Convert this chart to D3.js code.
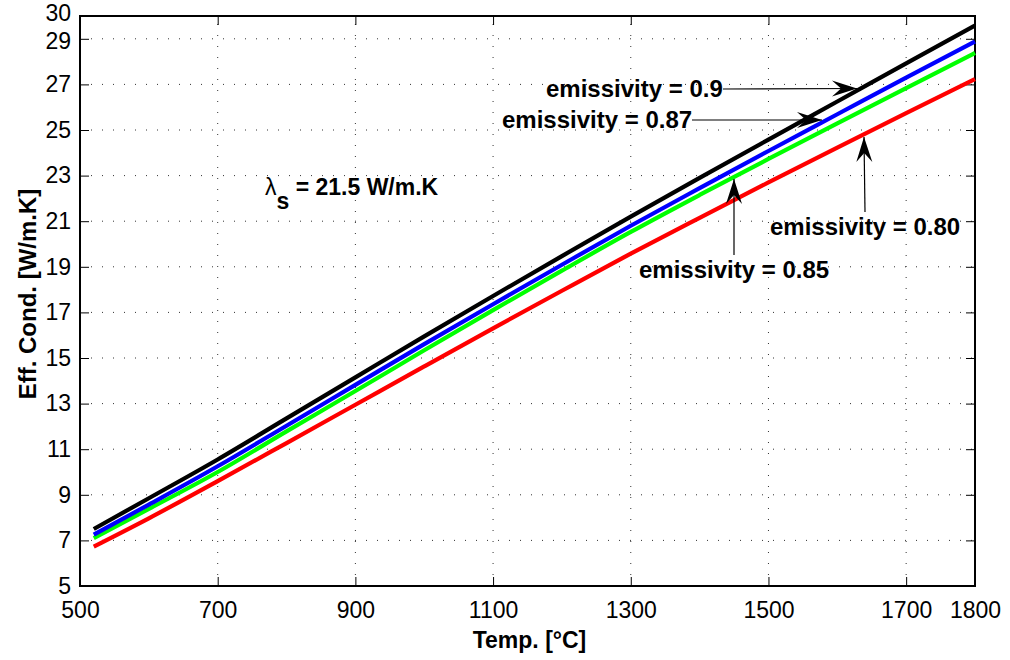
<!DOCTYPE html>
<html><head><meta charset="utf-8">
<script src="https://cdn.jsdelivr.net/npm/d3@7"></script>
<style>body{margin:0;background:#fff;} svg{display:block;}</style>
</head><body>
<svg id="chart" width="1010" height="660"></svg>
<script>
const temps = [520, 600, 700, 800, 900, 1000, 1100, 1200, 1300, 1400, 1500, 1600, 1700, 1800];
const emis090 = [7.5, 8.85, 10.55, 12.35, 14.15, 15.95, 17.72, 19.47, 21.2, 22.9, 24.58, 26.25, 27.92, 29.58];
const emis087 = [7.25, 8.57, 10.25, 12.03, 13.82, 15.61, 17.36, 19.09, 20.8, 22.45, 24.08, 25.69, 27.3, 28.88];
const emis085 = [7.1, 8.38, 10.0, 11.78, 13.55, 15.34, 17.1, 18.83, 20.53, 22.15, 23.73, 25.29, 26.84, 28.38];
const emis080 = [6.73, 7.97, 9.6, 11.27, 12.95, 14.63, 16.3, 17.95, 19.58, 21.15, 22.7, 24.23, 25.74, 27.23];
const seriesNames = ["emissivity = 0.9", "emissivity = 0.87", "emissivity = 0.85", "emissivity = 0.80"];
const seriesColors = ["#000000", "#0000ff", "#00ff00", "#ff0000"];
const xTicks = [500, 700, 900, 1100, 1300, 1500, 1700, 1800];
const yTicks = [5, 7, 9, 11, 13, 15, 17, 19, 21, 23, 25, 27, 29, 30];
const xLabel = "Temp. [°C]";
const yLabel = "Eff. Cond. [W/m.K]";

const svg = d3.select("#chart");
const font = "'Liberation Sans', Arial, Helvetica, sans-serif";
const L = 80, R = 975, T = 16, B = 586;
const x = d3.scaleLinear().domain([500, 1800]).range([L, R]);
const y = d3.scaleLinear().domain([5, 30]).range([B, T]);

// grid
const grid = svg.append("g");
xTicks.filter(t => t > 500 && t < 1800).forEach(t => {
  grid.append("line").attr("x1", x(t)).attr("x2", x(t)).attr("y1", B).attr("y2", T)
    .attr("stroke", "#333").attr("stroke-width", 1).attr("stroke-dasharray", "1,10");
});
yTicks.filter(t => t > 5 && t < 30).forEach(t => {
  grid.append("line").attr("x1", L).attr("x2", R).attr("y1", y(t)).attr("y2", y(t))
    .attr("stroke", "#333").attr("stroke-width", 1).attr("stroke-dasharray", "1,10");
});

// axes (ticks inside, MATLAB style)
const tickLen = 9;
const axB = d3.axisBottom(x).tickValues(xTicks).tickSize(-tickLen).tickPadding(16).tickFormat(d3.format("d"));
const axL = d3.axisLeft(y).tickValues(yTicks).tickSize(-tickLen).tickPadding(9).tickFormat(d3.format("d"));
const axT = d3.axisTop(x).tickValues(xTicks).tickSize(-tickLen).tickFormat("");
const axR = d3.axisRight(y).tickValues(yTicks).tickSize(-tickLen).tickFormat("");
function style(g) {
  g.select(".domain").remove();
  g.selectAll(".tick line").attr("stroke", "#000").attr("stroke-width", 1);
  g.selectAll("text").attr("font-family", font).attr("font-size", 23).attr("fill", "#000");
}
svg.append("g").attr("transform", `translate(0,${B})`).call(axB).call(style);
const gl = svg.append("g").attr("transform", `translate(${L},0)`).call(axL).call(style);
// nudge the top two labels apart slightly as in the reference
gl.selectAll(".tick").filter(d => d === 30).select("text").attr("dy", "0.2em");
gl.selectAll(".tick").filter(d => d === 29).select("text").attr("dy", "0.4em");
svg.append("g").attr("transform", `translate(0,${T})`).call(axT).call(style);
svg.append("g").attr("transform", `translate(${R},0)`).call(axR).call(style);
svg.append("rect").attr("x", L).attr("y", T).attr("width", R - L).attr("height", B - T)
  .attr("fill", "none").attr("stroke", "#000").attr("stroke-width", 2);

// data lines
const allSeries = [emis090, emis087, emis085, emis080];
const line = d3.line().x((d, i) => x(temps[i])).y(d => y(d)).curve(d3.curveMonotoneX);
[3, 2, 1, 0].forEach(k => {
  svg.append("path").datum(allSeries[k]).attr("d", line)
    .attr("fill", "none").attr("stroke", seriesColors[k]).attr("stroke-width", 4.2)
    .attr("stroke-linejoin", "round");
});

// annotations
const ann = svg.append("g").attr("font-family", font).attr("font-weight", "bold").attr("font-size", 24).attr("fill", "#000");
function arrow(x1, y1, x2, y2) {
  ann.append("line").attr("x1", x1).attr("y1", y1).attr("x2", x2).attr("y2", y2)
    .attr("stroke", "#000").attr("stroke-width", 1.2);
  const a = Math.atan2(y2 - y1, x2 - x1);
  const hl = 25, hw = 8, notch = 16;
  const bx = x2 - hl * Math.cos(a), by = y2 - hl * Math.sin(a);
  const nx = x2 - notch * Math.cos(a), ny = y2 - notch * Math.sin(a);
  const px = -Math.sin(a), py = Math.cos(a);
  ann.append("path").attr("d",
    `M${x2},${y2}L${bx + px * hw},${by + py * hw}L${nx},${ny}L${bx - px * hw},${by - py * hw}Z`)
    .attr("fill", "#000");
}
ann.append("text").attr("x", 546).attr("y", 97).text(seriesNames[0]);
arrow(723, 89, 857, 88.5);
ann.append("text").attr("x", 502).attr("y", 128).text(seriesNames[1]);
arrow(692, 120, 822, 120);
ann.append("text").attr("x", 770).attr("y", 235).text(seriesNames[3]);
arrow(865, 212, 864, 137);
ann.append("text").attr("x", 639).attr("y", 278).text(seriesNames[2]);
arrow(734, 255, 734, 179);

// lambda label
const lam = svg.append("text").attr("x", 265).attr("y", 195).attr("font-family", font).attr("font-size", 23).attr("fill", "#000");
lam.append("tspan").text("λ");
lam.append("tspan").attr("font-weight", "bold").attr("dy", 14).text("s");
lam.append("tspan").attr("font-weight", "bold").attr("dy", -14).text(" = 21.5 W/m.K");

// axis labels
svg.append("text").attr("x", (L + R) / 2 + 2).attr("y", 648).attr("text-anchor", "middle")
  .attr("font-family", font).attr("font-weight", "bold").attr("font-size", 23).text(xLabel);
svg.append("text").attr("transform", `translate(36,${(T + B) / 2 - 7}) rotate(-90)`).attr("text-anchor", "middle")
  .attr("font-family", font).attr("font-weight", "bold").attr("font-size", 24).text(yLabel);
</script>
</body></html>
